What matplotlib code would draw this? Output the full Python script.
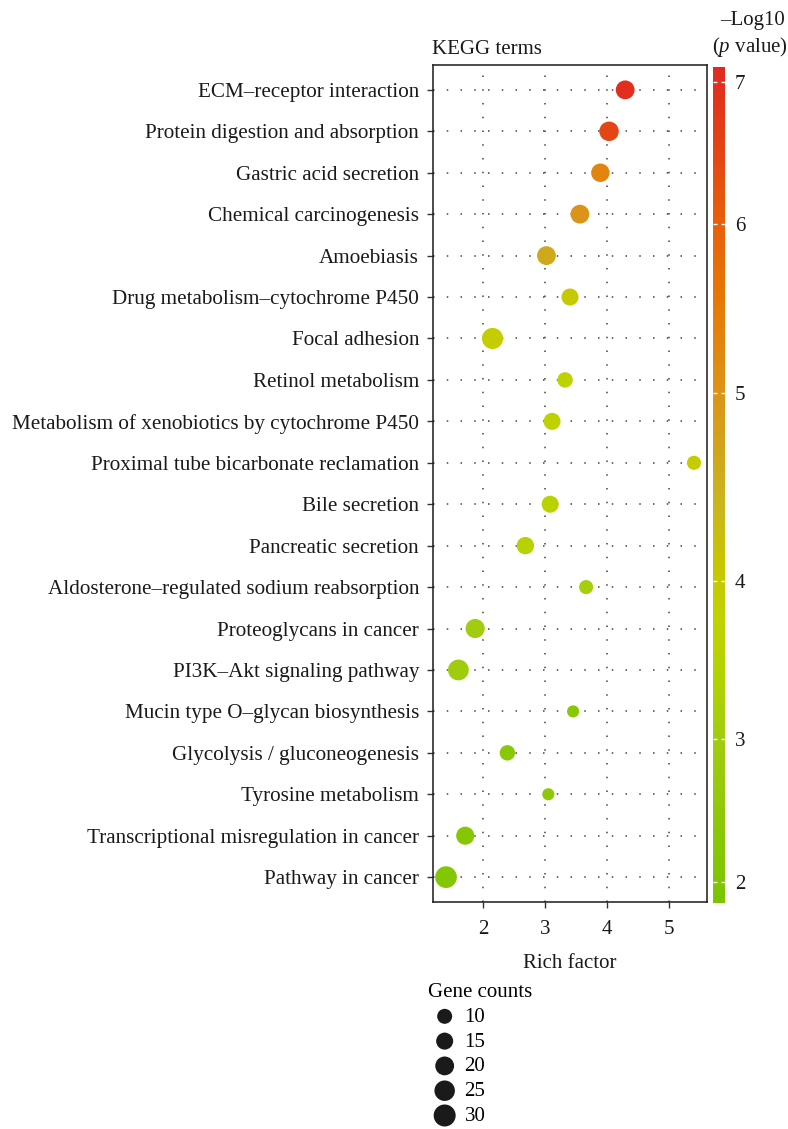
import numpy as np
import matplotlib
matplotlib.use("Agg")
import matplotlib.pyplot as plt
from matplotlib.colors import LinearSegmentedColormap, FuncNorm

plt.rcParams['font.family'] = ['Liberation Serif', 'DejaVu Serif']
plt.rcParams['mathtext.fontset'] = 'custom'
plt.rcParams['mathtext.rm'] = 'Liberation Serif'
plt.rcParams['mathtext.it'] = 'Liberation Serif:italic'

# KEGG terms, top to bottom
terms = ['ECM–receptor interaction', 'Protein digestion and absorption',
         'Gastric acid secretion', 'Chemical carcinogenesis', 'Amoebiasis',
         'Drug metabolism–cytochrome P450', 'Focal adhesion', 'Retinol metabolism',
         'Metabolism of xenobiotics by cytochrome P450',
         'Proximal tube bicarbonate reclamation', 'Bile secretion',
         'Pancreatic secretion', 'Aldosterone–regulated sodium reabsorption',
         'Proteoglycans in cancer', 'PI3K–Akt signaling pathway',
         'Mucin type O–glycan biosynthesis', 'Glycolysis / gluconeogenesis',
         'Tyrosine metabolism', 'Transcriptional misregulation in cancer',
         'Pathway in cancer']
rich_factor = [4.29, 4.03, 3.89, 3.56, 3.02, 3.40, 2.15, 3.32, 3.11, 5.40,
               3.08, 2.68, 3.66, 1.87, 1.60, 3.45, 2.39, 3.05, 1.71, 1.40]
gene_counts = [20, 22, 19, 20, 20, 15, 27, 11, 15, 8,
               15, 16, 8, 21, 26, 4, 11, 4, 18, 29]
neg_log_p = [7.0, 6.5, 5.3, 5.0, 4.6, 4.0, 3.9, 3.7, 3.7, 3.9,
             3.6, 3.5, 3.1, 3.0, 2.95, 2.3, 2.3, 2.5, 2.2, 2.1]
legend_counts = [10, 15, 20, 25, 30]
cbar_ticks = [2, 3, 4, 5, 6, 7]

# colour bar is not evenly spaced in the original
cb_vals = [1.85, 2, 3, 4, 5, 6, 7, 7.1]
cb_pos = [0.0, 0.025, 0.196, 0.385, 0.610, 0.812, 0.982, 1.0]
norm = FuncNorm((lambda v: np.interp(v, cb_vals, cb_pos),
                 lambda f: np.interp(f, cb_pos, cb_vals)), vmin=1.85, vmax=7.1)
cmap = LinearSegmentedColormap.from_list('kegg', [
    (0.0, '#7cc400'), (0.099, '#8ec808'), (0.196, '#a2cc10'), (0.267, '#b2d200'),
    (0.339, '#c0d200'), (0.41, '#c8c400'), (0.482, '#cab420'), (0.542, '#d2a41a'),
    (0.61, '#dc9418'), (0.721, '#e67806'), (0.812, '#e8600a'), (0.90, '#e44414'),
    (1.0, '#e02a20')])


def size_of(c):
    return 49.5 + 6.71 * np.asarray(c, dtype=float)


FS = 15
W, H = 788, 1129
fig = plt.figure(figsize=(W / 100, H / 100), dpi=100)
ax = fig.add_axes([433 / W, 1 - 902 / H, (707 - 433) / W, (902 - 65) / H])

ypos = np.arange(len(terms))[::-1]
ax.scatter(rich_factor, ypos, s=size_of(gene_counts), c=neg_log_p, cmap=cmap,
           norm=norm, edgecolors='none', zorder=3)

ax.set_xlim(1.19, 5.61)
ax.set_ylim(-0.6, len(terms) - 0.4)
ax.set_xticks([2, 3, 4, 5])
ax.set_yticks(ypos)
ax.set_yticklabels(terms)
ax.grid(True, color='#444444', linestyle=(0, (1, 8)), linewidth=1.1)
ax.tick_params(axis='both', labelsize=FS, length=4, width=1, color='#333333',
               labelcolor='#1a1a1a')
ax.tick_params(axis='y', pad=6, labelsize=15.2)
ax.tick_params(axis='x', pad=9)
for sp in ax.spines.values():
    sp.set_linewidth(1.1)
    sp.set_color('#1a1a1a')
ax.set_xlabel('Rich factor', fontsize=FS, labelpad=11, color='#1a1a1a')
fig.text(432 / W, 1 - 50 / H, 'KEGG terms', fontsize=FS, ha='left',
         va='center', color='#1a1a1a')

# colour bar
cax = fig.add_axes([713 / W, 1 - 903 / H, 12 / W, (903 - 67) / H])
sm = matplotlib.cm.ScalarMappable(norm=norm, cmap=cmap)
cb = fig.colorbar(sm, cax=cax, ticks=cbar_ticks)
cb.outline.set_visible(False)
cax.tick_params(axis='y', direction='in', length=3, width=1, color='white',
                left=True, right=True, labelsize=FS, pad=7,
                labelcolor='#1a1a1a')
fig.text(752 / W, 1 - 20 / H, '–Log10', fontsize=FS, ha='center',
         va='center', color='#1a1a1a')
fig.text(750 / W, 1 - 47 / H, '($\\mathit{p}$ value)', fontsize=FS,
         ha='center', va='center', color='#1a1a1a')

# size legend
handles = [ax.scatter([], [], s=size_of(c), c='#1a1a1a', edgecolors='none')
           for c in legend_counts]
fig.legend(handles, [str(c) for c in legend_counts], title='Gene counts',
           loc='upper left', bbox_to_anchor=(428 / W, 1 - 983 / H),
           frameon=False, fontsize=FS, title_fontsize=FS, alignment='left',
           labelspacing=0.25, handletextpad=0.15, borderpad=0, borderaxespad=0,
           handlelength=1.6)

fig.savefig('out.png', dpi=100)
